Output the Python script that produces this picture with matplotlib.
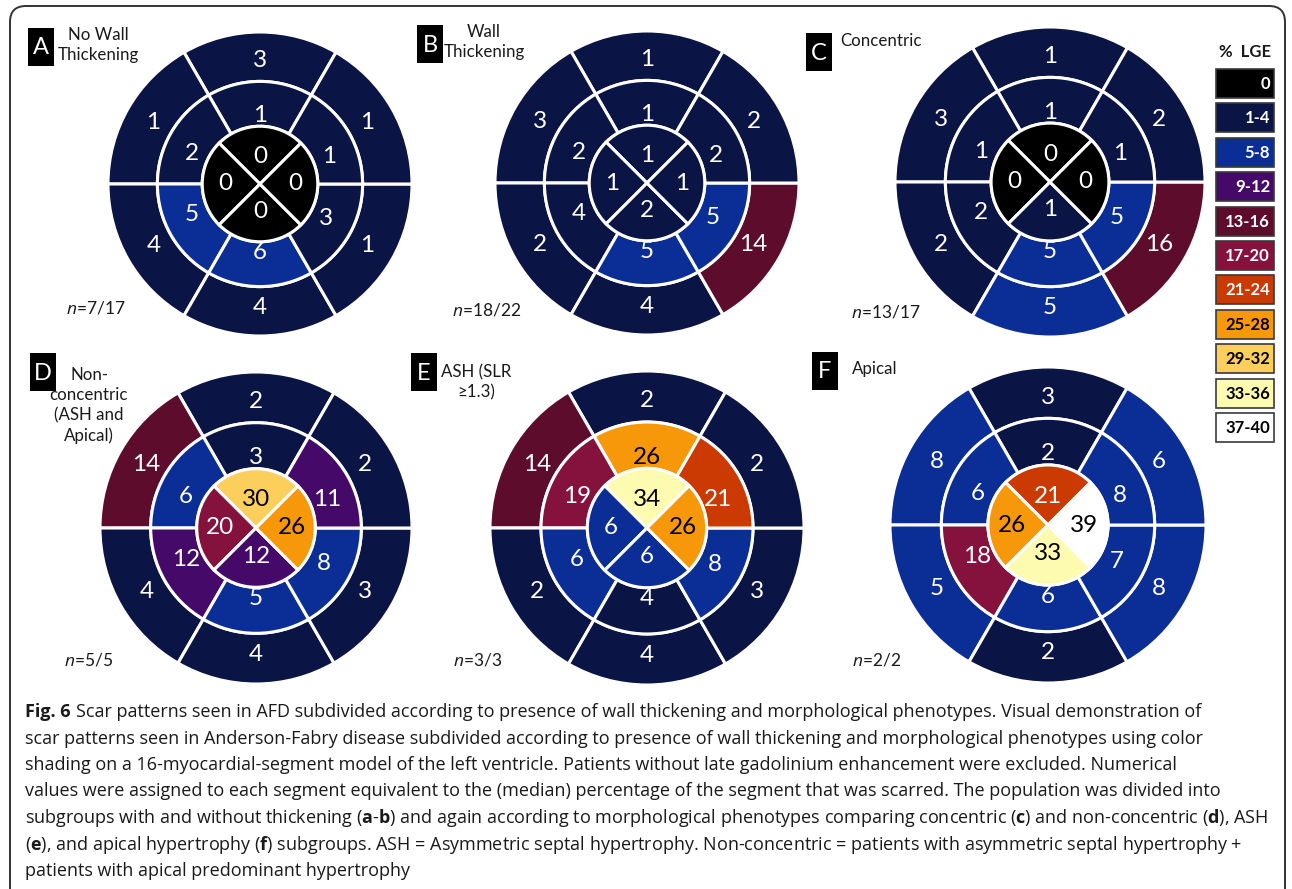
"""
Scar patterns in AFD: 16-segment bullseye plots, six subgroups.
"""

import matplotlib
matplotlib.use("Agg")
import matplotlib.pyplot as plt
from matplotlib.patches import Wedge, Rectangle, FancyBboxPatch
import numpy as np

plt.rcParams["font.family"] = ["Lato", "DejaVu Sans"]
plt.rcParams["mathtext.fontset"] = "custom"
plt.rcParams["mathtext.rm"] = "Open Sans"
plt.rcParams["mathtext.bf"] = "Open Sans:bold"
plt.rcParams["mathtext.it"] = "Open Sans:italic"

# ── Data: median % LGE per AHA segment ──
# basal/mid order: anterior, anteroseptal, inferoseptal, inferior, inferolateral, anterolateral
# apical order: anterior, septal, inferior, lateral
PANEL_KEYS = ["A", "B", "C", "D", "E", "F"]
PANEL_TITLES = ["No Wall\nThickening", "Wall\nThickening", "Concentric",
                "Non-\nconcentric\n(ASH and\nApical)", "ASH (SLR\n\u22651.3)", "Apical"]
PANEL_N = ["7/17", "18/22", "13/17", "5/5", "3/3", "2/2"]

BASAL = {
    "A": [3, 1, 4, 4, 1, 1],
    "B": [1, 3, 2, 4, 14, 2],
    "C": [1, 3, 2, 5, 16, 2],
    "D": [2, 14, 4, 4, 3, 2],
    "E": [2, 14, 2, 4, 3, 2],
    "F": [3, 8, 5, 2, 8, 6],
}
MID = {
    "A": [1, 2, 5, 6, 3, 1],
    "B": [1, 2, 4, 5, 5, 2],
    "C": [1, 1, 2, 5, 5, 1],
    "D": [3, 6, 12, 5, 8, 11],
    "E": [26, 19, 6, 4, 8, 21],
    "F": [2, 6, 18, 6, 7, 8],
}
APICAL = {
    "A": [0, 0, 0, 0],
    "B": [1, 1, 2, 1],
    "C": [0, 0, 1, 0],
    "D": [30, 20, 12, 26],
    "E": [34, 6, 6, 26],
    "F": [21, 26, 33, 39],
}

# ── Colour scale ──
BIN_LABELS = ["0", "1-4", "5-8", "9-12", "13-16", "17-20",
              "21-24", "25-28", "29-32", "33-36", "37-40"]
BIN_UPPER = [0, 4, 8, 12, 16, 20, 24, 28, 32, 36, 40]
BIN_COLORS = ["#000000", "#0b1545", "#0a2d96", "#45096a", "#5e0c2c", "#85123d",
              "#cb3a02", "#f7980a", "#fcce5c", "#fdfbb0", "#ffffff"]
BIN_TEXT = ["white"] * 7 + ["black"] * 4

# ── Layout (pixel coords, y down) ──
W, H = 1292, 889
CENTERS = {
    "A": (260, 184, 152), "B": (647, 183, 152), "C": (1050, 182, 155),
    "D": (256, 528, 156), "E": (647, 528, 157), "F": (1048, 525, 158),
}
LABEL_BOX = {"A": (28, 28), "B": (417, 25), "C": (806, 33),
             "D": (30, 353), "E": (411, 353), "F": (812, 352)}
TITLE_POS = {"A": (98, 27, "center"), "B": (484, 24, "center"), "C": (840, 33, "left"),
             "D": (89, 367, "center"), "E": (476, 364, "center"), "F": (852, 361, "left")}
N_POS = {"A": (66, 308), "B": (452, 310), "C": (851, 312),
         "D": (64, 660), "E": (453, 660), "F": (852, 660)}

SIX_ANGLES = [90, 150, 210, 270, 330, 30]
MID_TEXT_ANGLES = [90, 156, 204, 270, 332, 22]
FOUR_ANGLES = [90, 180, 270, 0]


def bin_index(v):
    for i, up in enumerate(BIN_UPPER):
        if v <= up:
            return i
    return len(BIN_UPPER) - 1


def draw_wedge(ax, cx, cy, r, width, phi1, phi2, val):
    # y axis inverted: visual angle phi -> data angle -phi
    ax.add_patch(Wedge((cx, cy), r, -phi2, -phi1, width=width,
                       facecolor=BIN_COLORS[bin_index(val)],
                       edgecolor="white", linewidth=2.2, zorder=2))


def put_label(ax, cx, cy, rad, phi, val):
    x = cx + rad * np.cos(np.radians(phi))
    y = cy - rad * np.sin(np.radians(phi))
    ax.text(x, y, str(val), ha="center", va="center", fontsize=17.5,
            color=BIN_TEXT[bin_index(val)], zorder=4)


fig = plt.figure(figsize=(W / 100, H / 100), dpi=100)
ax = fig.add_axes([0, 0, 1, 1])
ax.set_xlim(0, W)
ax.set_ylim(H, 0)
ax.axis("off")

# outer rounded frame
ax.add_patch(FancyBboxPatch((10, 6), 1275, 1000,
                            boxstyle="round,pad=0,rounding_size=16",
                            facecolor="white", edgecolor="#333333",
                            linewidth=1.4, zorder=0))

for i, key in enumerate(PANEL_KEYS):
    cx, cy, R = CENTERS[key]
    r_mid = 0.675 * R
    r_in = 0.38 * R
    for j, phi in enumerate(SIX_ANGLES):
        draw_wedge(ax, cx, cy, R, R - r_mid, phi - 30, phi + 30, BASAL[key][j])
        draw_wedge(ax, cx, cy, r_mid, r_mid - r_in, phi - 30, phi + 30, MID[key][j])
        put_label(ax, cx, cy, 0.81 * R, phi, BASAL[key][j])
        mr = 0.45 * R if phi in (90, 270) else 0.49 * R
        put_label(ax, cx, cy, mr, MID_TEXT_ANGLES[j], MID[key][j])
    for j, phi in enumerate(FOUR_ANGLES):
        draw_wedge(ax, cx, cy, r_in, r_in, phi - 45, phi + 45, APICAL[key][j])
        ar = 0.18 * R if phi in (90, 270) else 0.23 * R
        put_label(ax, cx, cy, ar, phi, APICAL[key][j])

    # panel letter
    bx, by = LABEL_BOX[key]
    ax.add_patch(Rectangle((bx, by), 26, 38, facecolor="black",
                           edgecolor="none", zorder=3))
    ax.text(bx + 13, by + 20, key, ha="center", va="center", fontsize=17,
            color="white", zorder=4)
    tx, ty, al = TITLE_POS[key]
    ax.text(tx, ty, PANEL_TITLES[i], ha=al, va="top", fontsize=12.2,
            color="#1a1a1a", linespacing=1.3, multialignment="center", zorder=4)
    nx, ny = N_POS[key]
    ax.text(nx, ny, r"$\mathit{n}$=" + PANEL_N[i], ha="left", va="center",
            fontsize=12.5, color="#1a1a1a", zorder=4)

# legend
ax.text(1245, 52, "%  LGE", ha="center", va="center", fontsize=12,
        fontweight="bold", color="#1a1a1a")
for k, lab in enumerate(BIN_LABELS):
    top = 69 + k * 34.4
    ax.add_patch(Rectangle((1216, top), 58, 29, facecolor=BIN_COLORS[k],
                           edgecolor="#3a3a3a", linewidth=1.2, zorder=3))
    ax.text(1270, top + 15, lab, ha="right", va="center", fontsize=12,
            fontweight="bold", color=BIN_TEXT[k], zorder=4)

# caption
CAP_SIZE = 12.95
CAP_FONT = ["Open Sans", "DejaVu Sans"]
CAPTION = [
    "Scar patterns seen in AFD subdivided according to presence of wall thickening and morphological phenotypes. Visual demonstration of",
    "scar patterns seen in Anderson-Fabry disease subdivided according to presence of wall thickening and morphological phenotypes using color",
    "shading on a 16-myocardial-segment model of the left ventricle. Patients without late gadolinium enhancement were excluded. Numerical",
    "values were assigned to each segment equivalent to the (median) percentage of the segment that was scarred. The population was divided into",
    r"subgroups with and without thickening ($\mathbf{a}$-$\mathbf{b}$) and again according to morphological phenotypes comparing concentric ($\mathbf{c}$) and non-concentric ($\mathbf{d}$), ASH",
    r"($\mathbf{e}$), and apical hypertrophy ($\mathbf{f}$) subgroups. ASH = Asymmetric septal hypertrophy. Non-concentric = patients with asymmetric septal hypertrophy +",
    "patients with apical predominant hypertrophy",
]
fig_lbl = ax.text(25, 712, "Fig. 6", ha="left", va="center", fontsize=CAP_SIZE,
                  family=CAP_FONT, fontweight="bold", color="#1a1a1a")
renderer = fig.canvas.get_renderer()
bb = fig_lbl.get_window_extent(renderer=renderer)
x_after = 25 + bb.width + 5
for k, line in enumerate(CAPTION):
    x0 = x_after if k == 0 else 25
    ax.text(x0, 712 + k * 26.5, line, ha="left", va="center", fontsize=CAP_SIZE,
            family=CAP_FONT, color="#1a1a1a")

fig.savefig("out.png", dpi=100, facecolor="white")
